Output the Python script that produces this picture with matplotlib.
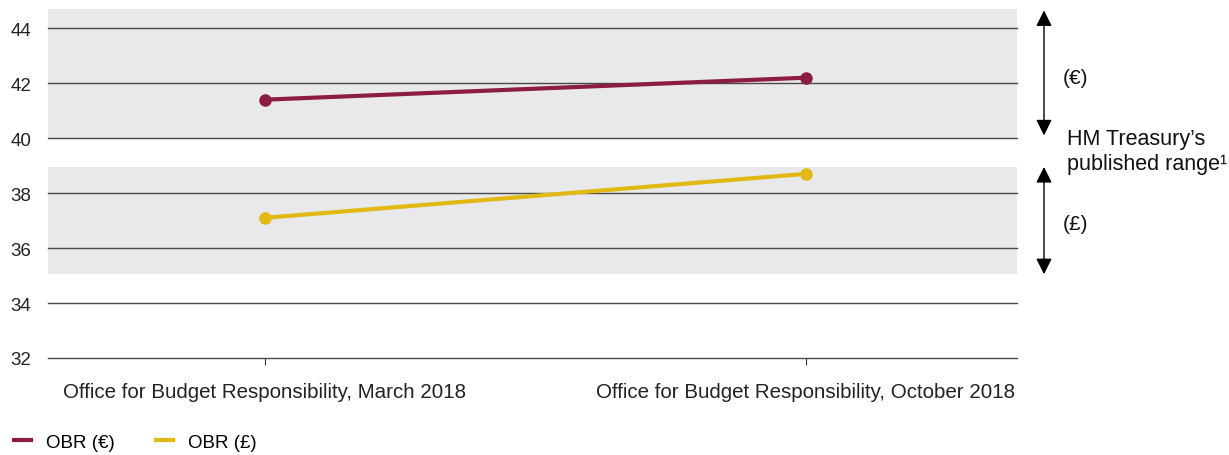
import matplotlib.pyplot as plt
from matplotlib.lines import Line2D

plt.rcParams['font.family'] = ['Liberation Sans', 'DejaVu Sans']

categories = ['Office for Budget Responsibility, March 2018',
              'Office for Budget Responsibility, October 2018']
obr_eur = [41.4, 42.2]
obr_gbp = [37.1, 38.7]
hmt_eur_range = [40.0, 44.7]
hmt_gbp_range = [35.05, 38.95]
yticks = [32, 34, 36, 38, 40, 42, 44]

maroon = '#8c1d40'
gold = '#e1b814'
band = '#e9e9ec'

fig = plt.figure(figsize=(12.29, 4.56), dpi=100)
ax = fig.add_axes([48 / 1229, 1 - 359 / 456, (1017 - 48) / 1229, (359 - 10) / 456])

x = range(len(categories))
ax.axhspan(hmt_eur_range[0], hmt_eur_range[1], color=band, zorder=0, lw=0)
ax.axhspan(hmt_gbp_range[0], hmt_gbp_range[1], color=band, zorder=0, lw=0)
for y in yticks:
    ax.axhline(y, color='#4a4a4a', lw=1.0, zorder=1, clip_on=False)

ax.plot(x, obr_eur, color=maroon, lw=3, marker='o', ms=8, zorder=3, solid_capstyle='round')
ax.plot(x, obr_gbp, color=gold, lw=3, marker='o', ms=8, zorder=3, solid_capstyle='round')

ax.set_xlim(-0.4, 1.39)
ax.set_ylim(32, 44.7)
ax.set_yticks(yticks)
ax.set_xticks(list(x))
ax.set_xticklabels(categories)
ax.tick_params(axis='y', length=0, pad=12, labelsize=13.5, labelcolor='#222222')
ax.tick_params(axis='x', length=5, width=0.8, color='#333333', pad=12, labelsize=14.8, labelcolor='#222222')
for s in ax.spines.values():
    s.set_visible(False)

# range arrows on the right
for lo, hi in [(hmt_eur_range[0] + 0.1, hmt_eur_range[1] - 0.05), (hmt_gbp_range[0], hmt_gbp_range[1])]:
    ax.annotate('', xy=(1044 / 1229, hi), xytext=(1044 / 1229, lo),
                xycoords=('figure fraction', 'data'), textcoords=('figure fraction', 'data'),
                annotation_clip=False,
                arrowprops=dict(arrowstyle='<|-|>', color='black', lw=1, mutation_scale=24,
                                shrinkA=0, shrinkB=0))

fig.text(1063 / 1229, 1 - 78 / 456, '(€)', fontsize=15, va='center', color='#111111')
fig.text(1067 / 1229, 1 - 152 / 456, 'HM Treasury’s\npublished range¹', fontsize=15.5,
         va='center', color='#111111', linespacing=1.2)
fig.text(1063 / 1229, 1 - 225 / 456, '(£)', fontsize=15, va='center', color='#111111')

handles = [Line2D([], [], color=maroon, lw=3), Line2D([], [], color=gold, lw=3)]
fig.legend(handles, ['OBR (€)', 'OBR (£)'], loc='center left', bbox_to_anchor=(-0.002, 1 - 443 / 456),
           ncol=2, frameon=False, fontsize=13.5, handlelength=0.9, columnspacing=2.2, handletextpad=0.8)

fig.savefig('out.png', dpi=100)
